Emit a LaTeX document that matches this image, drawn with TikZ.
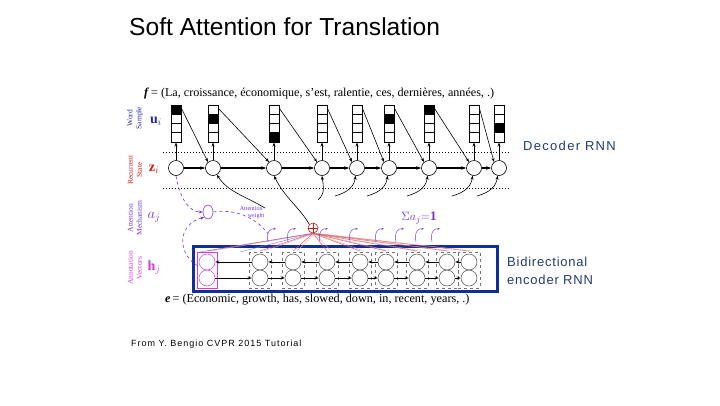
\documentclass[tikz,border=0pt]{standalone}
\usepackage{fontspec}
\setmainfont{Liberation Serif}
\newfontfamily\arial{Liberation Sans}
\newfontfamily\arialsp[LetterSpace=6]{Liberation Sans}
\newfontfamily\arialdec[LetterSpace=10]{Liberation Sans}
\newfontfamily\arialsmall[LetterSpace=11]{Liberation Sans}
\usetikzlibrary{arrows.meta,shapes.geometric}
\definecolor{ublue}{RGB}{40,40,170}
\definecolor{zred}{RGB}{200,30,30}
\definecolor{apurple}{RGB}{120,50,210}
\definecolor{hmag}{RGB}{215,60,215}
\definecolor{encblue}{RGB}{15,45,155}
\definecolor{navy}{RGB}{35,60,115}
\begin{document}
\begin{tikzpicture}[x=1pt,y=-1pt,
  dec/.style={circle,draw,line width=0.6pt,minimum size=15pt,inner sep=0pt,fill=white},
  enc/.style={circle,draw=black!70,line width=0.5pt,minimum size=16pt,inner sep=0pt},
  ubox/.style={draw,line width=1pt,minimum width=10pt,minimum height=37pt,inner sep=0pt},
  arr/.style={-{Stealth[length=4pt,width=3pt]},line width=0.6pt},
  harr/.style={-{Stealth[length=5pt,width=3.5pt]},line width=1.3pt},
  earr/.style={-{Stealth[length=4pt,width=3pt]},line width=0.8pt},
  hook/.style={apurple,line width=0.45pt},
  pdash/.style={apurple,dashed,line width=0.6pt,-{Stealth[length=4pt,width=3pt]}},
  side/.style={rotate=90,align=center,font=\fontsize{7.5}{9}\selectfont,inner sep=0pt},
  sym/.style={font=\fontsize{14}{16}\selectfont,inner sep=0pt}]
\useasboundingbox (0,0) rectangle (720,405);
\fill[white] (0,0) rectangle (720,405);

% title
\node[anchor=west,font=\arial\fontsize{24.6}{28}\selectfont,inner sep=0pt] (title) at (129,27) {Soft Attention for Translation};

% f line
\node[anchor=west,font=\fontsize{12.1}{14}\selectfont,inner sep=0pt] (fline) at (144,94) {\textbf{\textit{f}}\kern2pt= (La, croissance, économique, s'est, ralentie, ces, dernières, années, .)};

% side labels
\node[side,text=ublue] (lw) at (135,118) {Word\\Sample};
\node[side,text=zred] (lr) at (135,170) {Recurrent\\State};
\node[side,text=apurple] (la) at (135,218) {Attention\\Mechanism};
\node[side,text=hmag] (lh) at (135,268) {Annotation\\Vectors};
\node[sym,text=ublue] (su) at (156,121) {$\mathbf{u}_i$};
\node[sym,text=zred] (sz) at (154,169) {$\mathbf{z}_i$};
\node[sym,text=apurple] (sa) at (154,217) {$a_j$};
\node[sym,text=hmag] (sh) at (154,268) {$\mathbf{h}_j$};

% dotted separators
\draw[dotted,line width=1pt] (163,152) -- (510,152);
\draw[dotted,line width=1pt] (163,188) -- (510,188);

% decoder
\foreach \x/\k [count=\i] in {176/1,213/2,274/4,322/0,357/0,389/2,429/1,474/0,499/3} {
  \ifnum\k>0 \fill (\x-5,{105+(\k-1)*9.25}) rectangle (\x+5,{105+\k*9.25}); \fi
  \node[ubox] (b\i) at (\x,123.5) {};
  \foreach \m in {1,2,3} \draw[line width=0.8pt] (\x-5,{105+\m*9.25}) -- (\x+5,{105+\m*9.25});
  \node[dec] (z\i) at (\x,168) {};
  \draw[arr] (z\i) -- (b\i);
}
\foreach \i [evaluate=\i as \j using int(\i+1)] in {1,...,8} {
  \draw[harr] (z\i) -- (z\j);
  \draw[arr] ([yshift=-4pt]b\i.north east) -- (z\j.130);
}

% encoder
\draw[encblue,line width=3pt] (193,246) rectangle (497,291);
\foreach \x [count=\i] in {207,260,293,327,360,386,417,447,469} {
  \ifnum\i=1
    \draw[hmag,line width=0.6pt] (\x-10,252) rectangle (\x+10,288);
    \node[enc,draw=hmag] (eu\i) at (\x,262) {};
    \node[enc,draw=hmag] (el\i) at (\x,278) {};
  \else
    \draw[black!55,dashed,line width=0.45pt] (\x-11,252) rectangle (\x+11,288);
    \node[enc] (eu\i) at (\x,262) {};
    \node[enc] (el\i) at (\x,278) {};
  \fi
}
\foreach \i [evaluate=\i as \j using int(\i+1)] in {1,...,8} {
  \draw[earr] (eu\j) -- (eu\i);
  \draw[earr] (el\i) -- (el\j);
}

% e line
\node[anchor=west,font=\fontsize{12.2}{14}\selectfont,inner sep=0pt] (eline) at (165,300) {\textbf{\textit{e}}\kern2pt= (Economic, growth, has, slowed, down, in, recent, years, .)};

% context vector
\node[circle,draw=zred,line width=0.6pt,minimum size=10pt,inner sep=0pt] (plus) at (313,228) {};
\draw[zred,line width=0.6pt] (plus.north) -- (plus.south) (plus.west) -- (plus.east);
\foreach \x in {207,260,293,327,360,386,417,447,469} {
  \draw[zred!80,line width=0.6pt,opacity=0.8] (plus.south) -- (\x,251);
  \draw[zred!40,line width=0.5pt,opacity=0.8] ([xshift=2pt]plus.south) -- (\x+4,251);
}
\draw[apurple!70,line width=0.4pt] (plus.south) -- (200,252);
\draw[apurple!70,line width=0.4pt] (plus.south) -- (240,252);

% attention hooks
\foreach \x in {270,290,322,352,378,398,418,434} {
  \draw[hook,-{Stealth[length=2.5pt,width=2pt]}] (\x-2,242) .. controls (\x-4,232) and (\x,228) .. (\x+6,229);
}

% attention mechanism
\node[ellipse,draw=apurple,line width=0.6pt,minimum width=10pt,minimum height=14pt,inner sep=0pt] (att) at (208,212) {};
\draw[pdash] (z1.south) .. controls (180,200) and (190,212) .. (att.west);
\draw[pdash] (198,266) .. controls (178,255) and (176,225) .. (att.south west);
\draw[apurple,dashed,line width=0.6pt] (att.east) .. controls (240,208) and (260,222) .. (268,234);
\node[align=left,text=apurple,font=\fontsize{6}{7}\selectfont,inner sep=0pt] (aw) at (252,213) {Attention\\\hspace*{8pt}weight};
\node[text=apurple,font=\fontsize{13}{15}\selectfont,inner sep=0pt] (sum) at (419,218) {$\Sigma a_j{=}\mathbf{1}$};

% context inputs to decoder
\draw[arr] (plus.north west) .. controls (300,208) and (285,198) .. (z3.south);
\draw[arr] (265,208) .. controls (245,196) and (228,192) .. (z2.-60);
\draw[arr] (318,200) .. controls (326,193) and (323,185) .. (z4.south);
\foreach \i in {5,...,9} {
  \draw[arr] ([xshift=-22pt,yshift=-28pt]z\i.center) .. controls ([xshift=-8pt,yshift=-24pt]z\i.center) and ([xshift=-3pt,yshift=-18pt]z\i.center) .. (z\i.-100);
}

% annotations
\node[anchor=west,font=\arialdec\fontsize{13}{15}\selectfont,text=navy,inner sep=0pt] (dec) at (523,146) {Decoder RNN};
\node[anchor=north west,align=left,font=\arialsp\fontsize{13}{18}\selectfont,text=navy,inner sep=0pt] (encl) at (507,257) {Bidirectional\\encoder RNN};
\node[anchor=west,font=\arialsmall\fontsize{9}{10}\selectfont,inner sep=0pt] (src) at (131,344) {From Y. Bengio CVPR 2015 Tutorial};
\end{tikzpicture}
\end{document}
